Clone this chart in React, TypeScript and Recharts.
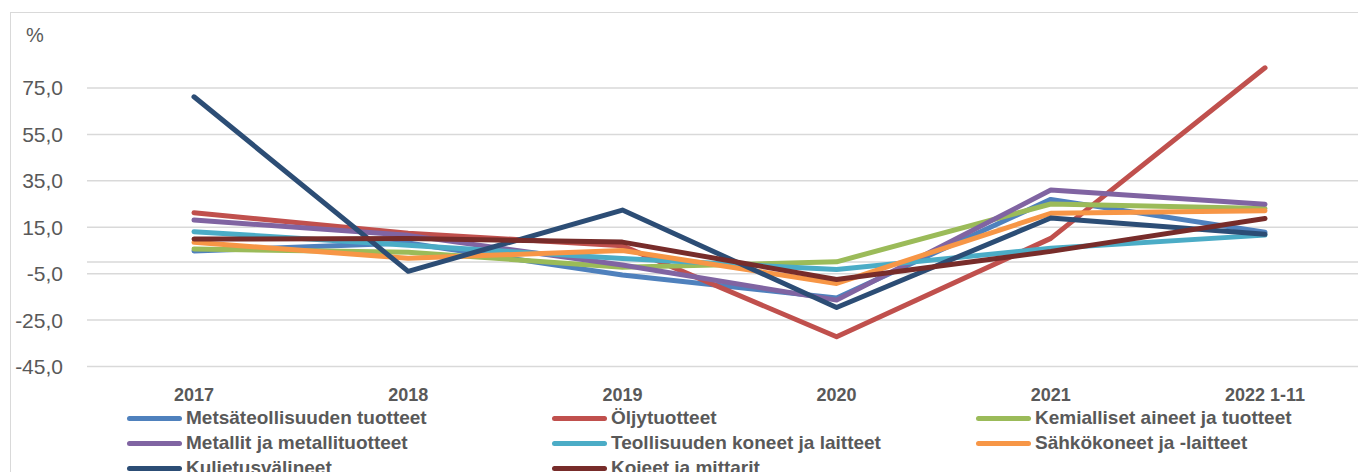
import { LineChart, Line, XAxis, YAxis, CartesianGrid } from 'recharts';

const categories = ['2017', '2018', '2019', '2020', '2021', '2022 1-11'];

const metsateollisuus = [4.8, 8.2, -5.6, -15.5, 27.0, 12.8];
const oljytuotteet = [21.2, 12.4, 7.0, -32.2, 10.2, 83.7];
const kemialliset = [5.6, 4.2, -2.2, 0.1, 25.0, 23.1];
const metallit = [18.1, 11.5, -1.3, -16.4, 31.0, 24.9];
const teollisuuskoneet = [13.1, 7.2, 1.5, -3.2, 5.9, 11.6];
const sahkokoneet = [8.5, 1.6, 5.0, -9.2, 21.0, 22.1];
const kulietusvalineet = [71.2, -4.0, 22.4, -19.6, 19.0, 12.0];
const kojeet = [9.9, 10.1, 8.6, -7.5, 4.6, 18.8];

const yTicks = [-45, -25, -5, 0, 15, 35, 55, 75];

const series = [
  { key: 'metsa', name: 'Metsäteollisuuden tuotteet', values: metsateollisuus, color: '#4F81BD' },
  { key: 'oljy', name: 'Öljytuotteet', values: oljytuotteet, color: '#C0504D' },
  { key: 'kemia', name: 'Kemialliset aineet ja tuotteet', values: kemialliset, color: '#9BBB59' },
  { key: 'metalli', name: 'Metallit ja metallituotteet', values: metallit, color: '#8064A2' },
  { key: 'teoll', name: 'Teollisuuden koneet ja laitteet', values: teollisuuskoneet, color: '#4BACC6' },
  { key: 'sahko', name: 'Sähkökoneet ja -laitteet', values: sahkokoneet, color: '#F79646' },
  { key: 'kulj', name: 'Kulietusvälineet', values: kulietusvalineet, color: '#2C4D75' },
  { key: 'kojeet', name: 'Kojeet ja mittarit', values: kojeet, color: '#772C2A' },
];

const data = categories.map((name, i) => {
  const row: Record<string, string | number> = { name };
  series.forEach((s) => {
    row[s.key] = s.values[i];
  });
  return row;
});

const FONT = '"Liberation Sans", Arial, sans-serif';
const TEXT = '#595959';

const YTick = (props: any) => {
  const { y, payload } = props;
  if (payload.value === 0) return null;
  return (
    <text x={63} y={y} dy="0.355em" textAnchor="end" fontSize={21} fill={TEXT} fontFamily={FONT}>
      {payload.value.toFixed(1).replace('.', ',')}
    </text>
  );
};

const legendCols = [127, 552, 976];
const legendRows = [418, 443, 468];

export default function App() {
  return (
    <div
      style={{
        position: 'fixed',
        left: 0,
        top: 0,
        width: 1358,
        height: 472,
        overflow: 'hidden',
        background: '#fff',
        fontFamily: FONT,
      }}
    >
      <div style={{ position: 'absolute', left: 26, top: 24, fontSize: 20, color: TEXT }}>%</div>
      <div style={{ position: 'absolute', left: 0, top: 0 }}>
        <LineChart
          width={1358}
          height={472}
          data={data}
          margin={{ top: 13, right: 0, left: 0, bottom: 75.5 }}
        >
          <CartesianGrid
            vertical={false}
            horizontalValues={yTicks}
            stroke="#d9d9d9"
            strokeWidth={1.5}
          />
          <XAxis
            dataKey="name"
            axisLine={false}
            tickLine={false}
            tickSize={0}
            tickMargin={22}
            height={30}
            padding={{ left: 107, right: 93 }}
            interval={0}
            tick={{ fontSize: 18, fontWeight: 'bold', fill: TEXT, fontFamily: FONT }}
          />
          <YAxis
            width={87}
            domain={[-45, 107.3]}
            ticks={yTicks}
            interval={0}
            axisLine={false}
            tickLine={false}
            tickSize={0}
            tick={<YTick />}
          />
          {series.map((s) => (
            <Line
              key={s.key}
              type="linear"
              dataKey={s.key}
              name={s.name}
              stroke={s.color}
              strokeWidth={5}
              strokeLinecap="round"
              strokeLinejoin="round"
              dot={false}
              activeDot={false}
              isAnimationActive={false}
            />
          ))}
        </LineChart>
      </div>
      <div
        style={{
          position: 'absolute',
          left: 10,
          top: 12,
          width: 1500,
          height: 600,
          border: '1.5px solid #d9d9d9',
          pointerEvents: 'none',
        }}
      />
      {series.map((s, i) => {
        const x = legendCols[i % 3];
        const y = legendRows[Math.floor(i / 3)];
        return (
          <div
            key={s.key}
            style={{
              position: 'absolute',
              left: x,
              top: y - 12,
              height: 24,
              display: 'flex',
              alignItems: 'center',
              whiteSpace: 'nowrap',
            }}
          >
            <div style={{ width: 55, height: 5, borderRadius: 3, background: s.color }} />
            <span style={{ marginLeft: 4, fontSize: 19, fontWeight: 'bold', color: TEXT }}>{s.name}</span>
          </div>
        );
      })}
    </div>
  );
}
